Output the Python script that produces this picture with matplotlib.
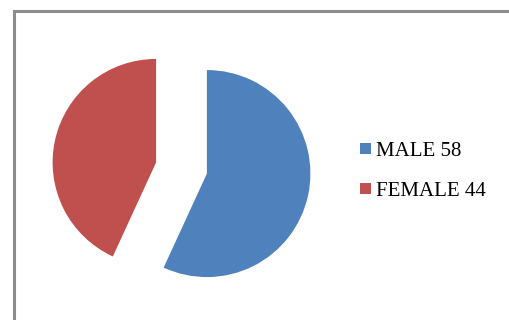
import matplotlib.pyplot as plt
from matplotlib.patches import Rectangle

# data
labels = ["MALE 58", "FEMALE 44"]
values = [58, 44]
colors = ["#4F81BD", "#C0504D"]

W, H = 509, 320

fig = plt.figure(figsize=(W / 100, H / 100), dpi=100)
ax = fig.add_axes([0, 0, 1, 1])

# pie in pixel-like data coords (y up)
wedges, _ = ax.pie(values, colors=colors, startangle=90, counterclock=False,
                   center=(181.5, H - 168), radius=103.5, explode=[26, 26],
                   wedgeprops=dict(linewidth=0))
ax.set_xlim(0, W)
ax.set_ylim(0, H)
ax.set_aspect("equal")
ax.axis("off")

# chart border
ax.add_patch(Rectangle((14.5, -10), W + 20, H - 10 + 10 - 0.5,
                       fill=False, edgecolor="#8c8c8c", linewidth=2.2,
                       clip_on=False))

# legend, drawn by hand (square + label per row)
for i, (lab, col) in enumerate(zip(labels, colors)):
    y_mid = H - (148.5 + 40 * i)
    ax.add_patch(Rectangle((360, y_mid - 5.5), 11, 11, color=col, linewidth=0))
    ax.text(376.5, H - (155.7 + 40 * i), lab, ha="left", va="baseline",
            family="Liberation Serif", fontsize=15)

plt.savefig("out.png", dpi=100)
